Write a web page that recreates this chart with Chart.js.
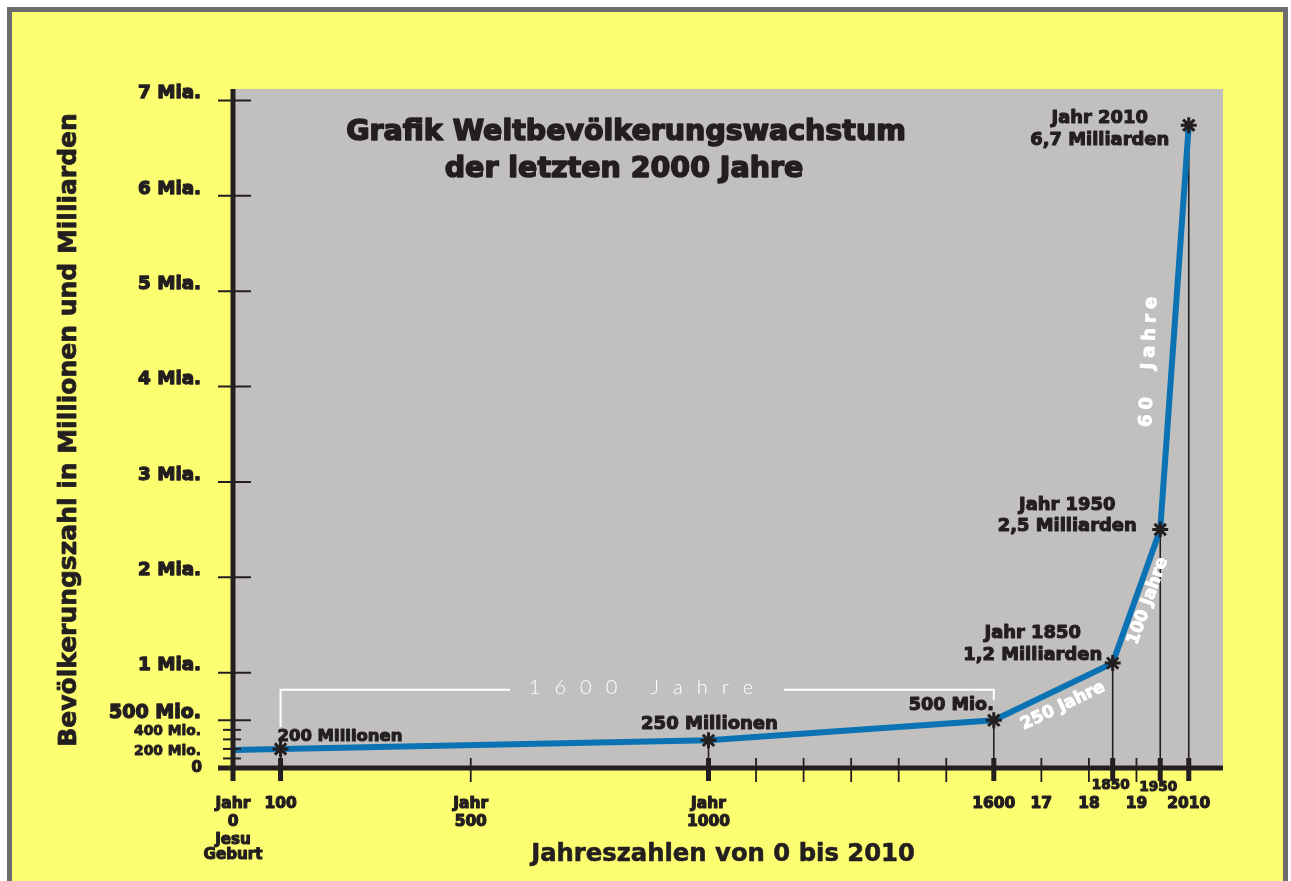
<!DOCTYPE html>
<html lang="de">
<head>
<meta charset="utf-8">
<title>Weltbevölkerungswachstum</title>
<script src="https://cdn.jsdelivr.net/npm/chart.js@4/dist/chart.umd.min.js"></script>
<style>
  html, body { margin: 0; padding: 0; background: #fff; }
  canvas { display: block; }
</style>
</head>
<body>
<canvas id="chart" width="1291" height="881"></canvas>
<script>
// Daten (Bevölkerung in Milliarden)
const years = [0, 100, 1000, 1600, 1850, 1950, 2010];
const population = [0.19, 0.2, 0.29, 0.5, 1.1, 2.5, 6.74];

// Achsen
const yMajorTicks = [1, 2, 3, 4, 5, 6, 7];
const yMajorLabels = ['1 Mia.', '2 Mia.', '3 Mia.', '4 Mia.', '5 Mia.', '6 Mia.', '7 Mia.'];
const yHalfTick = 0.5;
const yHalfLabel = '500 Mio.';
const yMinorTicks = [0.1, 0.2, 0.3, 0.4];
const ySmallTicks = [0.4, 0.2];
const ySmallLabels = ['400 Mio.', '200 Mio.'];
const yZeroLabel = '0';

const xThickTicks = [100, 1000, 1600, 1850, 1950, 2010];
const xThinTicks = [500, 1100, 1200, 1300, 1400, 1500, 1700, 1800, 1900];
const xLabelYears = [0, 100, 500, 1000, 1600, 1700, 1800, 1900, 2010];
const xLabelTexts = [['Jahr', '0'], ['100'], ['Jahr', '500'], ['Jahr', '1000'], ['1600'], ['17'], ['18'], ['19'], ['2010']];
const xRaisedYears = [1850, 1950];
const xRaisedTexts = ['1850', '1950'];

// Beschriftungen
const titleLines = ['Grafik Weltbevölkerungswachstum', 'der letzten 2000 Jahre'];
const yTitle = 'Bevölkerungszahl in Millionen und Milliarden';
const xTitle = 'Jahreszahlen von 0 bis 2010';
const birthNote = ['Jesu', 'Geburt'];
const pointNotes = [['200 Millionen'], ['250 Millionen'], ['500 Mio.'], ['Jahr 1850', '1,2 Milliarden'], ['Jahr 1950', '2,5 Milliarden'], ['Jahr 2010', '6,7 Milliarden']];
const spanLabels = ['250 Jahre', '100 Jahre', '60 Jahre'];
const bracketLabel = '1600 Jahre';

const INK = '#231f20';
const FAM = '"DejaVu Sans", sans-serif';
const font = (w, s) => `${w} ${s}px ${FAM}`;

// Schriftgröße, bei der ein Text eine bestimmte Breite hat
function sizeFor(ctx, s, width) {
    ctx.font = font('bold', 100);
    return 100 * width / ctx.measureText(s).width;
}

// fetter Text: Füllung plus Kontur in derselben Farbe
function txt(ctx, s, x, y, size, align, heavy, color) {
    ctx.font = font('bold', size);
    ctx.textAlign = align || 'center';
    ctx.textBaseline = 'middle';
    ctx.fillStyle = color || INK;
    ctx.fillText(s, x, y);
    const w = heavy === undefined ? 1.1 : heavy;
    if (w > 0) {
        ctx.lineJoin = 'round';
        ctx.lineWidth = w;
        ctx.strokeStyle = color || INK;
        ctx.strokeText(s, x, y);
    }
}

// Text mit Sperrung, zentriert um (0,0)
function spaced(ctx, s, spacing, heavy) {
    const chars = Array.from(s);
    const widths = chars.map(c => ctx.measureText(c).width);
    const total = widths.reduce((a, b) => a + b, 0) + spacing * (chars.length - 1);
    let x = -total / 2;
    ctx.textAlign = 'left';
    chars.forEach((c, i) => {
        ctx.fillText(c, x, 0);
        if (heavy) {
            ctx.lineJoin = 'round';
            ctx.lineWidth = heavy;
            ctx.strokeStyle = ctx.fillStyle;
            ctx.strokeText(c, x, 0);
        }
        x += widths[i] + spacing;
    });
}

function line(ctx, x1, y1, x2, y2, w, color) {
    ctx.beginPath();
    ctx.moveTo(x1, y1);
    ctx.lineTo(x2, y2);
    ctx.lineWidth = w;
    ctx.strokeStyle = color || INK;
    ctx.stroke();
}

const drawPlugin = {
    id: 'drawPlugin',
    beforeDraw(chart) {
        const { ctx, chartArea: a, width, height } = chart;
        ctx.save();
        ctx.fillStyle = '#ffffff';
        ctx.fillRect(0, 0, width, height);
        ctx.fillStyle = '#6e6c6c';
        ctx.fillRect(7, 7, 1281, height - 7);
        ctx.fillStyle = '#fdfd72';
        ctx.fillRect(12, 12, 1271, height - 12);
        ctx.fillStyle = '#c1c0be';
        ctx.fillRect(a.left, a.top, a.right - a.left, a.bottom - a.top);
        ctx.restore();
    },
    beforeDatasetsDraw(chart) {
        const { ctx, scales: { x, y } } = chart;
        ctx.save();
        // Titel
        const ts = sizeFor(ctx, titleLines[0], 560);
        txt(ctx, titleLines[0], 626, 133, ts, 'center', 1.6);
        txt(ctx, titleLines[1], 624, 170, ts, 'center', 1.6);

        // Senkrechte Linien von den Punkten zur Achse
        years.forEach((yr, i) => {
            if (i === 0) return;
            line(ctx, x.getPixelForValue(yr), y.getPixelForValue(population[i]), x.getPixelForValue(yr), y.getPixelForValue(0), 1.6);
        });

        // Klammer 1600 Jahre
        const bx1 = x.getPixelForValue(years[1]);
        const bx2 = x.getPixelForValue(years[3]);
        const by = y.getPixelForValue(0.82);
        ctx.beginPath();
        ctx.moveTo(bx1, y.getPixelForValue(population[1]) - 22);
        ctx.lineTo(bx1, by);
        ctx.lineTo(510, by);
        ctx.moveTo(784, by);
        ctx.lineTo(bx2, by);
        ctx.lineTo(bx2, y.getPixelForValue(population[3]) - 20);
        ctx.lineWidth = 2;
        ctx.strokeStyle = '#ffffff';
        ctx.stroke();
        ctx.save();
        ctx.translate(641, by - 2);
        ctx.font = '300 20px "Lato", sans-serif';
        ctx.fillStyle = '#ffffff';
        ctx.textBaseline = 'middle';
        spaced(ctx, bracketLabel, 14);
        ctx.restore();
        ctx.restore();
    },
    afterDatasetsDraw(chart) {
        const { ctx, scales: { x, y } } = chart;
        const px = i => x.getPixelForValue(years[i]);
        const py = i => y.getPixelForValue(population[i]);
        const x0 = x.getPixelForValue(0);
        const y0 = y.getPixelForValue(0);
        ctx.save();

        // Y-Achse
        line(ctx, x0, chart.chartArea.top, x0, y0 + 13, 5);
        yMajorTicks.concat([yHalfTick]).forEach(v => line(ctx, x0 - 15, y.getPixelForValue(v), x0 + 18, y.getPixelForValue(v), 2));
        yMinorTicks.forEach(v => line(ctx, x0 - 10, y.getPixelForValue(v), x0 + 8, y.getPixelForValue(v), 2));
        const ym = sizeFor(ctx, '7 Mia.', 63);
        yMajorTicks.forEach((v, i) => txt(ctx, yMajorLabels[i], 201, y.getPixelForValue(v) - 7, ym, 'right', 1.3));
        txt(ctx, yHalfLabel, 201, y.getPixelForValue(yHalfTick) - 7, sizeFor(ctx, yHalfLabel, 92), 'right', 1.4);
        const ysm = sizeFor(ctx, ySmallLabels[0], 67);
        ySmallTicks.forEach((v, i) => txt(ctx, ySmallLabels[i], 201, y.getPixelForValue(v) + 2, ysm, 'right', 0.9));
        txt(ctx, yZeroLabel, 202, y0, 15, 'right', 1.2);

        // X-Achse
        line(ctx, x0 - 15, y0, chart.chartArea.right, y0, 5);
        xThinTicks.forEach(v => line(ctx, x.getPixelForValue(v), y0 - 10, x.getPixelForValue(v), y0 + 14, 1.8));
        xThickTicks.forEach(v => line(ctx, x.getPixelForValue(v), y0 - 10, x.getPixelForValue(v), y0 + 13, 5));
        const xs = sizeFor(ctx, '1600', 43);
        xLabelYears.forEach((v, i) => {
            xLabelTexts[i].forEach((s, j) => txt(ctx, s, x.getPixelForValue(v), 804 + j * 18, xs, 'center', 1.2));
        });
        const bs = sizeFor(ctx, birthNote[1], 59);
        birthNote.forEach((s, j) => txt(ctx, s, x0, 840 + j * 15, bs, 'center', 1.1));
        const rs = sizeFor(ctx, xRaisedTexts[0], 38);
        xRaisedYears.forEach((v, i) => txt(ctx, xRaisedTexts[i], x.getPixelForValue(v) - 2, 785 + i * 2, rs, 'center', 1.1));

        // Achsentitel
        txt(ctx, xTitle, 723, 855, sizeFor(ctx, xTitle, 384), 'center', 0.6);
        ctx.save();
        ctx.translate(70, 430);
        ctx.rotate(-Math.PI / 2);
        txt(ctx, yTitle, 0, 0, sizeFor(ctx, yTitle, 634), 'center', 0.8);
        ctx.restore();

        // Punktbeschriftungen
        txt(ctx, pointNotes[0][0], px(1) - 3, py(1) - 12, sizeFor(ctx, pointNotes[0][0], 125), 'left');
        txt(ctx, pointNotes[1][0], px(2) + 1, py(2) - 16, sizeFor(ctx, pointNotes[1][0], 137));
        txt(ctx, pointNotes[2][0], px(3), py(3) - 15, sizeFor(ctx, pointNotes[2][0], 85), 'right');
        const ns = sizeFor(ctx, pointNotes[3][1], 139);
        pointNotes[3].forEach((s, j) => txt(ctx, s, px(4) - 80, 633 + j * 22, ns));
        pointNotes[4].forEach((s, j) => txt(ctx, s, px(5) - 93, 505 + j * 21, ns));
        pointNotes[5].forEach((s, j) => txt(ctx, s, px(6) - 89, 118 + j * 22, ns));

        // Zeitspannen entlang der Linie (weiß, gedreht)
        const spanAt = (k, label, cx, cy) => {
            const ang = Math.atan2(py(k + 1) - py(k), px(k + 1) - px(k));
            ctx.save();
            ctx.translate(cx, cy);
            ctx.rotate(ang);
            ctx.font = font('bold', 17);
            ctx.fillStyle = '#ffffff';
            ctx.textBaseline = 'middle';
            spaced(ctx, label, 0, 0.9);
            ctx.restore();
        };
        spanAt(3, spanLabels[0], 1063, 706);
        spanAt(4, spanLabels[1], 1148, 601);
        ctx.save();
        ctx.translate(1149, 362);
        ctx.rotate(-Math.PI / 2 + 0.04);
        ctx.font = font('bold', 18);
        ctx.fillStyle = '#ffffff';
        ctx.textBaseline = 'middle';
        spaced(ctx, spanLabels[2].replace(' ', '  '), 5, 0.9);
        ctx.restore();

        ctx.restore();
    }
};

new Chart(document.getElementById('chart'), {
    type: 'line',
    data: {
        datasets: [{
            data: years.map((yr, i) => ({ x: yr, y: population[i] })),
            borderColor: '#0b72b3',
            borderWidth: 6,
            tension: 0,
            pointStyle: 'star',
            pointRadius: years.map((yr, i) => i === 0 ? 0 : 8),
            pointBorderColor: INK,
            pointBorderWidth: 3,
            pointBackgroundColor: INK
        }]
    },
    options: {
        responsive: false,
        animation: false,
        events: [],
        layout: { padding: { left: 233, right: 68, top: 89, bottom: 113 } },
        plugins: { legend: { display: false }, tooltip: { enabled: false } },
        scales: {
            x: { type: 'linear', min: 0, max: 2082, display: false },
            y: { type: 'linear', min: 0, max: 7.12, display: false }
        }
    },
    plugins: [drawPlugin]
});
</script>
</body>
</html>
